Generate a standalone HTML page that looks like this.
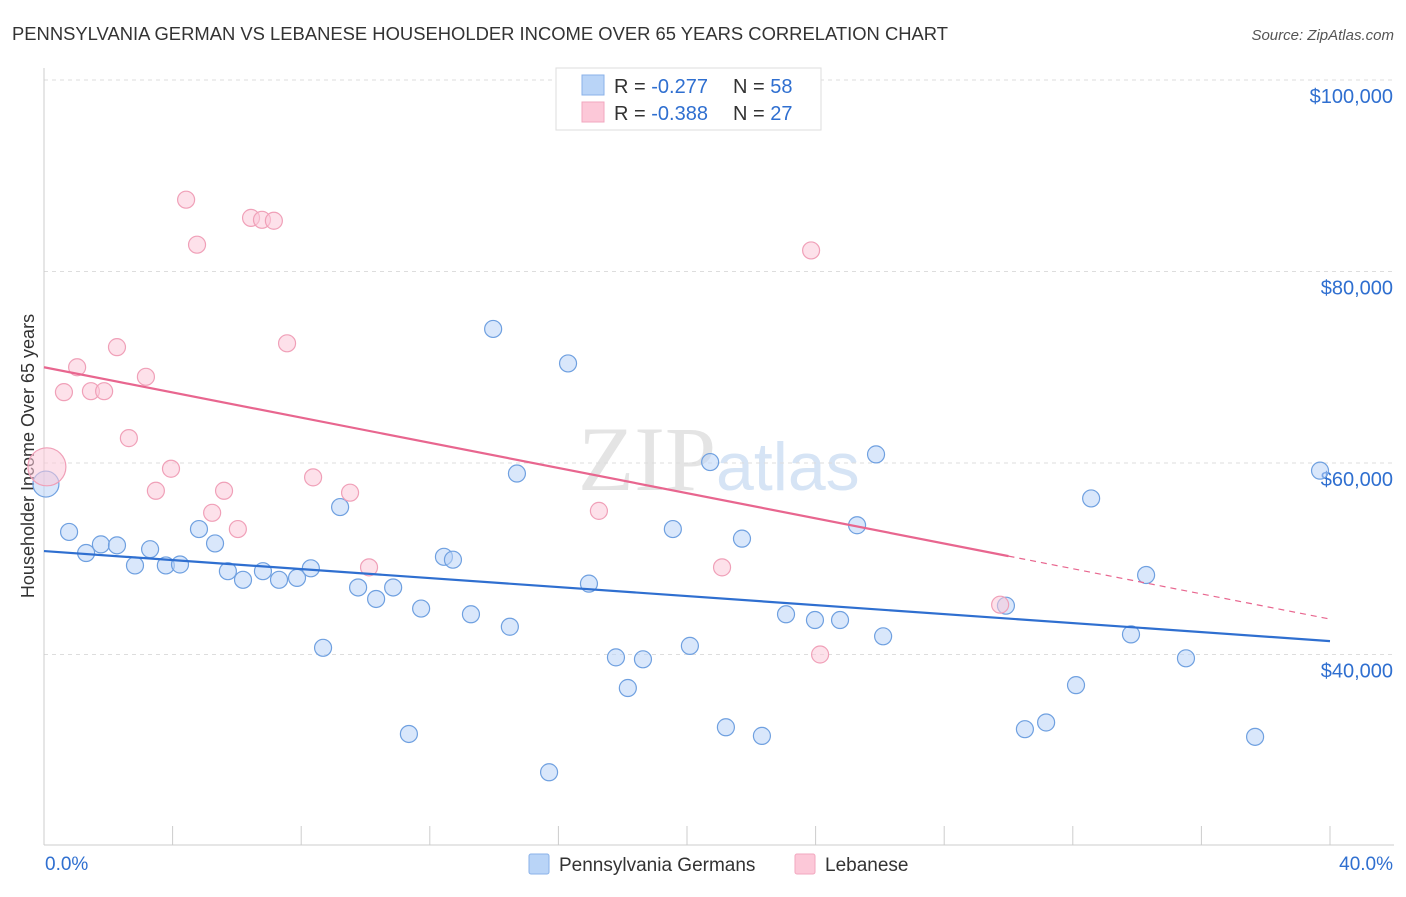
<!DOCTYPE html>
<html><head><meta charset="utf-8"><style>
body{margin:0;background:#fff;font-family:"Liberation Sans",sans-serif;}
</style></head><body>
<svg id="c" width="1406" height="892" xmlns="http://www.w3.org/2000/svg" font-family="Liberation Sans, sans-serif">
<text x="12" y="40" font-size="18" fill="#333" textLength="936" lengthAdjust="spacingAndGlyphs">PENNSYLVANIA GERMAN VS LEBANESE HOUSEHOLDER INCOME OVER 65 YEARS CORRELATION CHART</text>
<text x="1394" y="40" font-size="15" fill="#555" font-style="italic" text-anchor="end">Source: ZipAtlas.com</text>
<text x="716" y="490" font-size="92" fill="#e4e4e4" text-anchor="end" font-family="Liberation Serif, serif">ZIP</text>
<text x="716" y="490" font-size="68" fill="#d6e4f5">atlas</text>
<text transform="translate(34,456) rotate(-90)" font-size="18" fill="#333" text-anchor="middle">Householder Income Over 65 years</text>
<g id="grid"></g><g id="marks"></g>
<g>
<rect x="556" y="68" width="265" height="62" fill="#fff" stroke="#ddd"/>
<rect x="582" y="75" width="22" height="20" fill="#b9d4f7" stroke="#8ab2e8"/>
<rect x="582" y="102" width="22" height="20" fill="#fcc8d8" stroke="#f2a7bf"/>
<text x="614" y="93" font-size="20" fill="#333">R = <tspan fill="#2f6fd0">-0.277</tspan></text>
<text x="733" y="93" font-size="20" fill="#333">N = <tspan fill="#2f6fd0">58</tspan></text>
<text x="614" y="120" font-size="20" fill="#333">R = <tspan fill="#2f6fd0">-0.388</tspan></text>
<text x="733" y="120" font-size="20" fill="#333">N = <tspan fill="#2f6fd0">27</tspan></text>
</g>
<g>
<rect x="529" y="854" width="20" height="20" fill="#b9d4f7" stroke="#8ab2e8" rx="2"/>
<text x="559" y="871" font-size="19" fill="#333">Pennsylvania Germans</text>
<rect x="795" y="854" width="20" height="20" fill="#fcc8d8" stroke="#f2a7bf" rx="2"/>
<text x="825" y="871" font-size="19" fill="#333">Lebanese</text>
</g>
</svg>
<script>
const yTicks=[100000,80000,60000,40000];
const yLabels=["$100,000","$80,000","$60,000","$40,000"];
const xTicks=[0,4,8,12,16,20,24,28,32,36,40];
const blueX=[0.06,0.78,1.31,1.77,2.27,2.83,3.30,3.79,4.23,4.82,5.32,5.72,6.19,6.81,7.31,7.87,8.30,8.68,9.21,9.77,10.33,10.86,11.35,11.73,12.44,12.72,13.28,13.97,14.49,14.71,15.71,16.30,16.95,17.79,18.16,18.63,19.56,20.09,20.72,21.21,21.71,22.33,23.08,23.98,24.76,25.29,25.88,26.10,29.92,30.51,31.17,32.10,32.57,33.81,34.28,35.52,37.67,39.69];
const blueY=[57800,52800,50600,51500,51400,49300,51000,49300,49400,53100,51600,48700,47800,48700,47800,48000,49000,40700,55400,47000,45800,47000,31700,44800,50200,49900,44200,74000,42900,58900,27700,70400,47400,39700,36500,39500,53100,40900,60100,32400,52100,31500,44200,43600,43600,53500,60900,41900,45100,32200,32900,36800,56300,42100,48300,39600,31400,59200];
const pinkX=[0.09,0.62,1.03,1.46,1.87,2.27,2.64,3.17,3.48,3.95,4.42,4.76,5.23,5.60,6.03,6.44,6.78,7.15,7.56,8.37,9.52,10.11,17.26,21.09,23.86,24.14,29.74];
const pinkY=[59600,67400,70000,67500,67500,72100,62600,69000,57100,59400,87500,82800,54800,57100,53100,85600,85400,85300,72500,58500,56900,49100,55000,49100,82200,40000,45200];
const blueTrend=[50800,41400];
const pinkTrend=[70000,43700];
const NS="http://www.w3.org/2000/svg";
const X=p=>44+p/40*1286;
const Y=v=>80+(100000-v)/20000*191.5;
function mk(parent,tag,attrs){const e=document.createElementNS(NS,tag);for(const k in attrs)e.setAttribute(k,attrs[k]);parent.appendChild(e);return e;}
const grid=document.getElementById('grid'),marks=document.getElementById('marks');
yTicks.forEach((t,i)=>{
 const l=mk(grid,'line',{x1:44,x2:1394,y1:Y(t),y2:Y(t),stroke:'#ddd','stroke-dasharray':'4,4'});
 
 
 const tx=mk(grid,'text',{x:1393,y:Y(t)+23,'font-size':20,fill:'#2f6fd0','text-anchor':'end'});
 tx.textContent=yLabels[i];
 
 
});
const ax=mk(grid,'line',{x1:44,x2:1394,y1:845,y2:845,stroke:'#ccc'});


const ay=mk(grid,'line',{x1:44,x2:44,y1:68,y2:845,stroke:'#ccc'});


xTicks.forEach(t=>{const l=mk(grid,'line',{x1:X(t),x2:X(t),y1:826,y2:845,stroke:'#ccc'});
 
 });
const xl0=mk(grid,'text',{x:45,y:870,'font-size':19,fill:'#2f6fd0'});xl0.textContent=xTicks[0].toFixed(1)+'%';


const xl1=mk(grid,'text',{x:1393,y:870,'font-size':19,fill:'#2f6fd0','text-anchor':'end'});xl1.textContent=xTicks[xTicks.length-1].toFixed(1)+'%';


function dots(xs,ys,fill,stroke,name){xs.forEach((x,i)=>{const r=i===0?(name==='pink'?19:13):8.5;
 const c=mk(marks,'circle',{cx:X(x),cy:Y(ys[i]),r:r,fill:fill,stroke:stroke,'stroke-width':1.2,'fill-opacity':0.55});
 
 });}
dots(blueX,blueY,'#b9d4f7','#6fa0e0','blue');
dots(pinkX,pinkY,'#fcc8d8','#f0a0b8','pink');
const bl=mk(marks,'line',{x1:X(0),y1:Y(blueTrend[0]),x2:X(40),y2:Y(blueTrend[1]),stroke:'#2f6fd0','stroke-width':2.2});


const pm=pinkTrend[0]+(pinkTrend[1]-pinkTrend[0])*30/40;
const pl=mk(marks,'line',{x1:X(0),y1:Y(pinkTrend[0]),x2:X(30),y2:Y(pm),stroke:'#e8668f','stroke-width':2.2});


const pd=mk(marks,'line',{x1:X(30),y1:Y(pm),x2:X(40),y2:Y(pinkTrend[1]),stroke:'#e8668f','stroke-width':1.2,'stroke-dasharray':'6,5'});


</script>
</body></html>
